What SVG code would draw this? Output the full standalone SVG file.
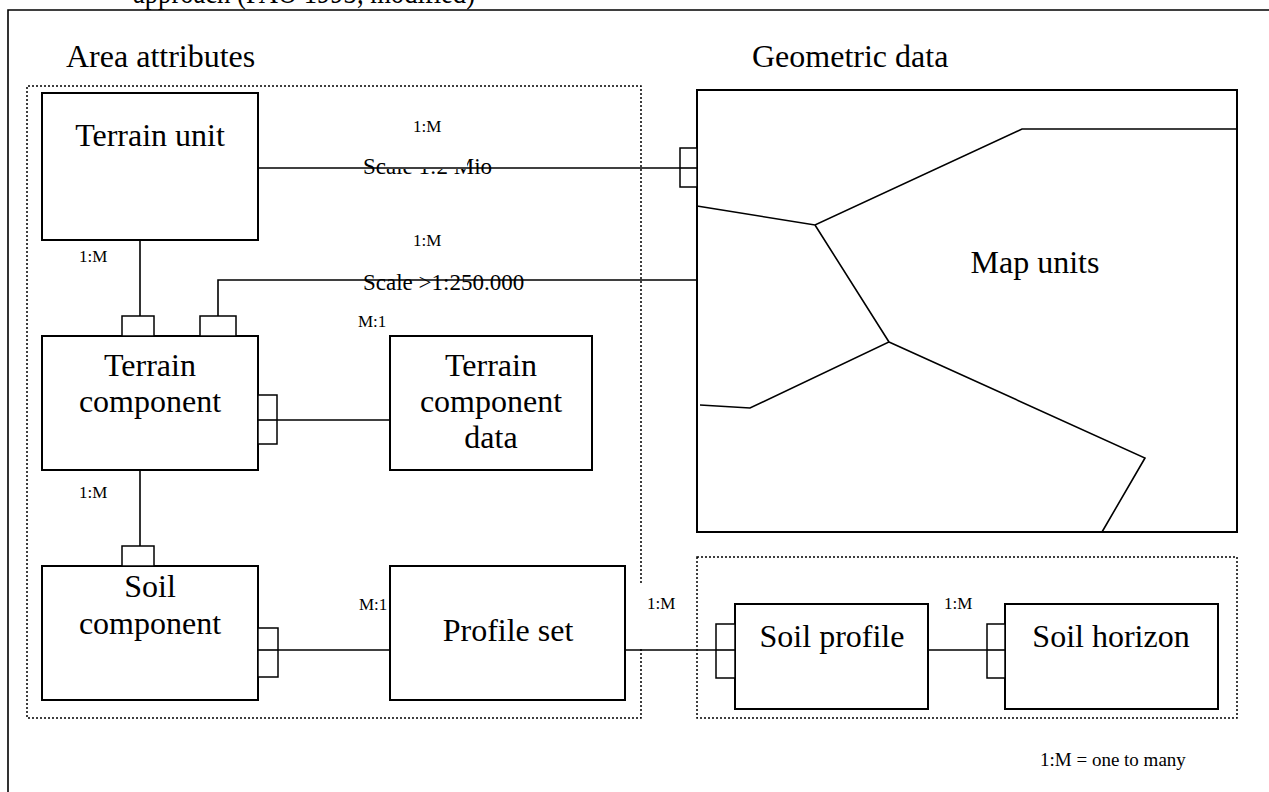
<svg xmlns="http://www.w3.org/2000/svg" width="1269" height="792" viewBox="0 0 1269 792">
<style>
text{font-family:"Liberation Serif","Times New Roman",serif;fill:#000}
.big{font-size:32px}
.sm{font-size:17px}
.mid{font-size:23px}
.c{text-anchor:middle}
.box{fill:#fff;stroke:#000;stroke-width:2}
.port{fill:#fff;stroke:#000;stroke-width:1.5}
.ln{fill:none;stroke:#000;stroke-width:1.6}
.dot{fill:none;stroke:#000;stroke-width:1.5;stroke-dasharray:2 2}
</style>
<rect width="1269" height="792" fill="#fff"/>
<text class="big" x="133" y="3" textLength="342" lengthAdjust="spacingAndGlyphs">approach (FAO 1993, modified)</text>
<path class="ln" d="M8,792 V10 H1269" stroke-width="2"/>
<text class="big" x="66" y="67">Area attributes</text>
<text class="big" x="752" y="67">Geometric data</text>
<g id="area-frame">
<path class="dot" d="M641,583 V86 H27 V718 H641 V648"/>
</g>
<g id="soil-frame">
<rect class="dot" x="697" y="557" width="540" height="161"/>
</g>
<g id="connectors">
<text class="mid" x="363" y="174">Scale 1:2 Mio</text>
<rect x="387" y="150" width="80" height="19" fill="#fff"/>
<path class="ln" d="M258,168 H680"/>
<path class="ln" d="M697,280 H218 V316"/>
<text class="mid" x="363" y="290">Scale &gt;1:250.000</text>
<path class="ln" d="M140,240 V316"/>
<path class="ln" d="M277,420 H390"/>
<path class="ln" d="M140,470 V546"/>
<path class="ln" d="M278,650 H390"/>
<path class="ln" d="M625,650 H716"/>
<path class="ln" d="M928,650 H987"/>
<text class="sm" x="413" y="132">1:M</text>
<text class="sm" x="413" y="246">1:M</text>
<text class="sm" x="79" y="262">1:M</text>
<text class="sm" x="358" y="327">M:1</text>
<text class="sm" x="79" y="498">1:M</text>
<text class="sm" x="359" y="610">M:1</text>
<text class="sm" x="647" y="609">1:M</text>
<text class="sm" x="944" y="609">1:M</text>
</g>
<g id="terrain-unit">
<rect class="box" x="42" y="93" width="216" height="147"/>
<text class="big c" x="150" y="146">Terrain unit</text>
</g>
<g id="terrain-component">
<rect class="box" x="42" y="336" width="216" height="134"/>
<rect class="port" x="122" y="316" width="32" height="20"/>
<rect class="port" x="200" y="316" width="36" height="20"/>
<rect class="port" x="258" y="395" width="19" height="49"/>
<path class="ln" d="M258,420 H277"/>
<text class="big c" x="150" y="376">Terrain</text>
<text class="big c" x="150" y="412">component</text>
</g>
<g id="terrain-component-data">
<rect class="box" x="390" y="336" width="202" height="134"/>
<text class="big c" x="491" y="376">Terrain</text>
<text class="big c" x="491" y="412">component</text>
<text class="big c" x="491" y="448">data</text>
</g>
<g id="soil-component">
<rect class="box" x="42" y="566" width="216" height="134"/>
<rect class="port" x="122" y="546" width="32" height="20"/>
<rect class="port" x="258" y="628" width="20" height="49"/>
<path class="ln" d="M258,650 H278"/>
<text class="big c" x="150" y="597">Soil</text>
<text class="big c" x="150" y="634">component</text>
</g>
<g id="profile-set">
<rect class="box" x="390" y="566" width="235" height="134"/>
<text class="big c" x="508" y="641">Profile set</text>
</g>
<g id="soil-profile">
<rect class="box" x="735" y="604" width="193" height="105"/>
<rect class="port" x="716" y="624" width="19" height="54"/>
<path class="ln" d="M716,650 H735"/>
<text class="big c" x="832" y="647">Soil profile</text>
</g>
<g id="soil-horizon">
<rect class="box" x="1005" y="604" width="213" height="105"/>
<rect class="port" x="987" y="624" width="18" height="54"/>
<path class="ln" d="M987,650 H1005"/>
<text class="big c" x="1111" y="647">Soil horizon</text>
</g>
<g id="map-units">
<rect class="box" x="697" y="90" width="540" height="442"/>
<path class="ln" d="M1237,129 H1022 L815,225 L697,206 M815,225 L889,342 L750,408 L700,405 M889,342 L1145,458 L1102,532"/>
<rect class="port" x="680" y="148" width="17" height="39"/>
<path class="ln" d="M680,168 H697"/>
<text class="big c" x="1035" y="273">Map units</text>
</g>
<text x="1040" y="766" style="font-size:19px">1:M = one to many</text>
</svg>
